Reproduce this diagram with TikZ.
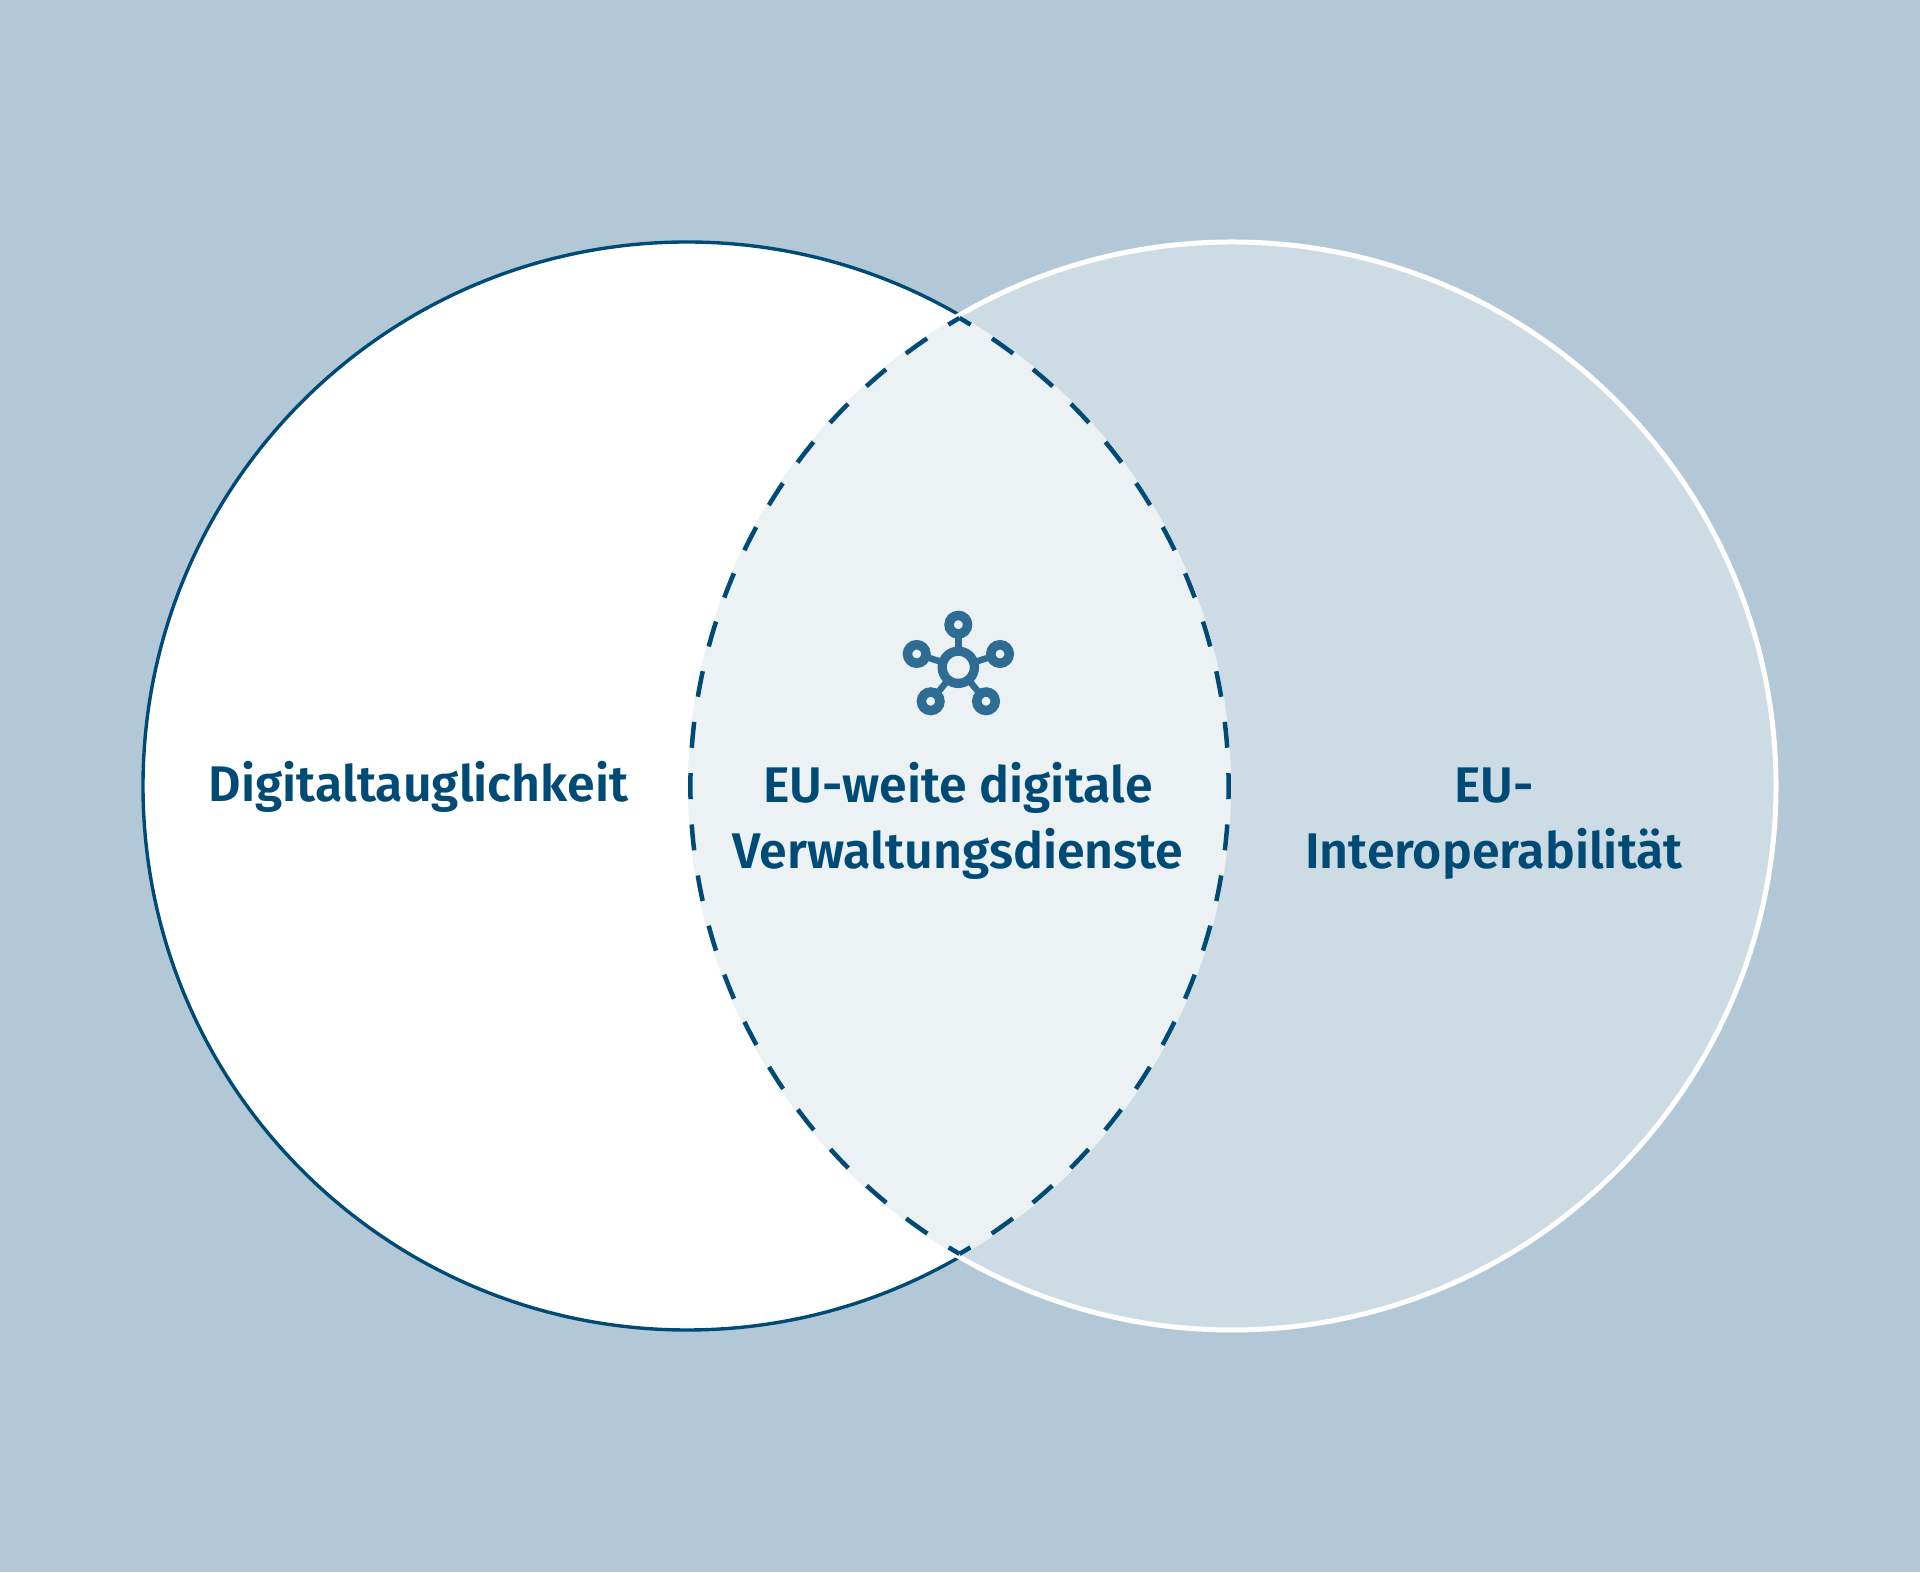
\documentclass[tikz,border=0pt]{standalone}
\usepackage{fontspec}
\setmainfont{Fira Sans SemiBold}
\definecolor{bgblue}{HTML}{B2C8D6}
\definecolor{rightblue}{HTML}{CDDBE4}
\definecolor{lensblue}{HTML}{ECF1F4}
\definecolor{darkblue}{HTML}{004B76}
\definecolor{iconblue}{HTML}{2E6C93}
\begin{document}
\begin{tikzpicture}[
		x = 0.02cm,
		y = 0.02cm,
		label/.style = {text = darkblue, align = center, font = \fontsize{28.5}{37.6}\selectfont},
		hub/.style = {circle, draw = iconblue, line width = 0.185cm, inner sep = 0, outer sep = 0, minimum size = 0.645cm},
		sat/.style = {circle, draw = iconblue, line width = 0.19cm, inner sep = 0, outer sep = 0, minimum size = 0.37cm}
	]

	\useasboundingbox (0,0) rectangle (1920,1572);
	\fill[bgblue] (0,0) rectangle (1920,1572);

	\coordinate (l) at (687,786);
	\coordinate (r) at (1232,786);
	\coordinate (top) at (959.5,1256.8);
	\coordinate (tip) at (959.5,1254);

	\draw[darkblue, fill = white, line width = 0.068cm] (l) circle (544);
	\draw[white, fill = rightblue, line width = 0.1cm] (r) circle (544);

	\fill[lensblue] (top) arc[start angle = 120.06, end angle = 239.94, radius = 544]
		arc[start angle = -59.94, end angle = 59.94, radius = 544] -- cycle;

	% both arcs start at the upper tip, so a dash bends over each tip
	\foreach \s/\e in {120.21/239.79, 59.79/-59.79}{
		\draw[darkblue, line width = 0.09cm, dash pattern = on 0.52cm off 0.508cm, dash phase = 0.26cm]
			(tip) arc[start angle = \s, end angle = \e, radius = 541.5];
	}

	\node[label] (dt) at (418.5,785) {Digitaltauglichkeit};
	\node[label] (eu) at (958,751) {EU-weite digitale\\Verwaltungsdienste};
	\node[label] (io) at (1494,748.5) {EU-\\Interoperabilität};

	\node[hub] (c) at (958.3,904.7) {};
	\node[sat] (a) at (958.3,947.3) {};
	\node[sat] (b) at (916.7,918) {};
	\node[sat] (d) at (1000,918) {};
	\node[sat] (e) at (930.7,870.7) {};
	\node[sat] (f) at (986,870.7) {};

	\foreach \r in {a,b,d,e,f}{
		\draw[iconblue, line width = 0.13cm] (c) -- (\r);
	}

\end{tikzpicture}
\end{document}
